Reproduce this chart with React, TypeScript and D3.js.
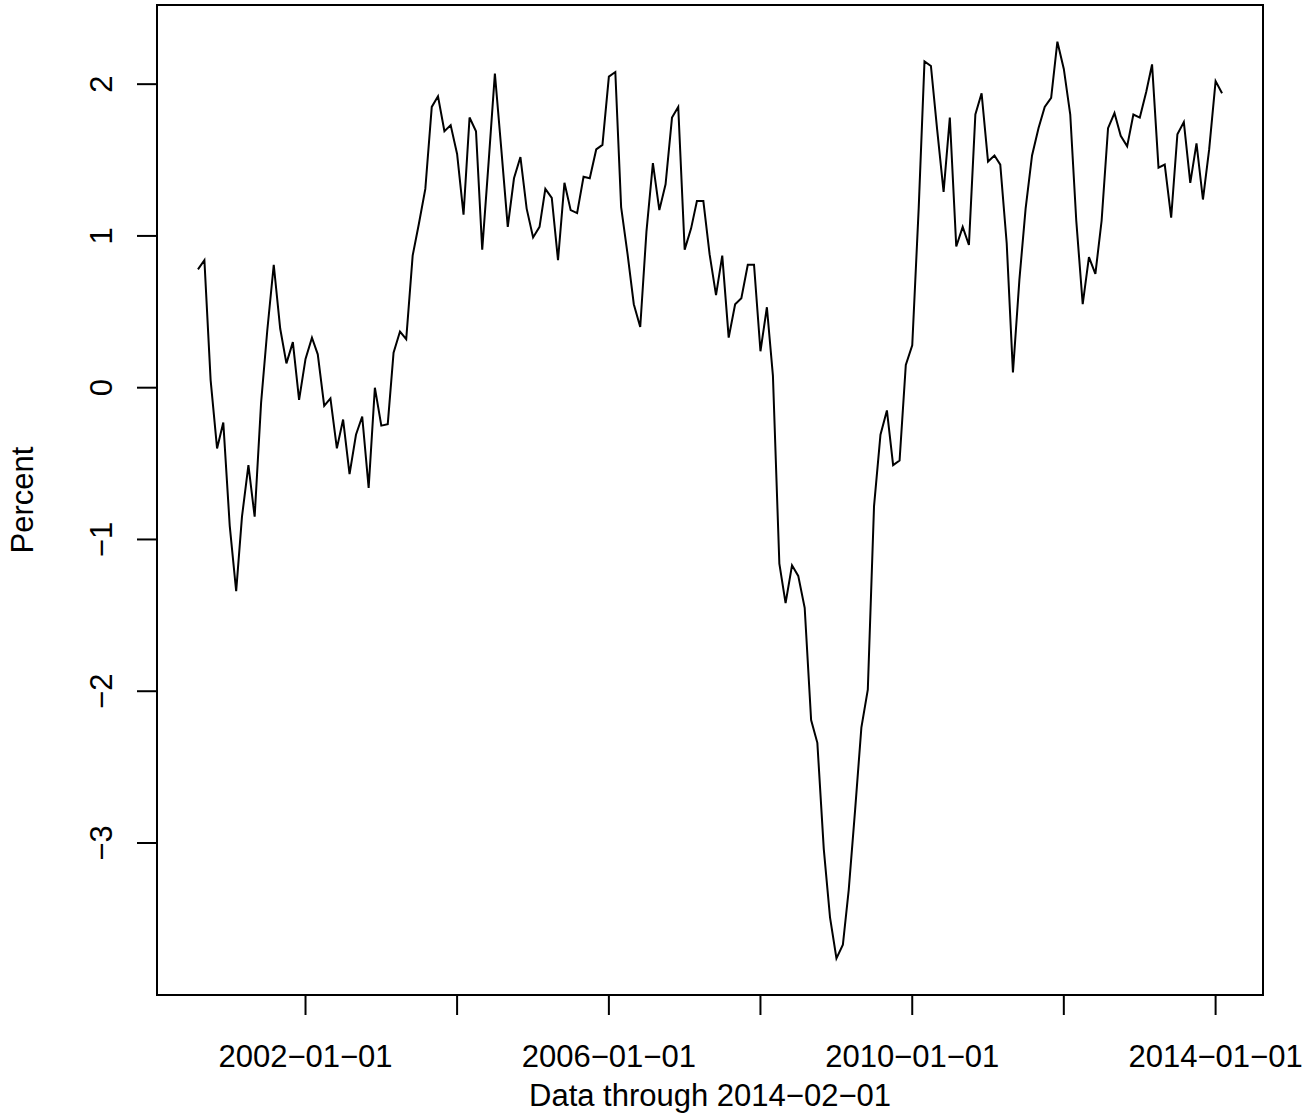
import React from "react";
import * as d3 from "d3";

const startDate = "2000-08-01";
const values = [
  0.78, 0.84, 0.05, -0.40, -0.23, -0.91, -1.34, -0.85, -0.51, -0.85,
  -0.10, 0.38, 0.81, 0.39, 0.16, 0.30, -0.08, 0.19, 0.33, 0.22,
  -0.12, -0.07, -0.40, -0.21, -0.57, -0.31, -0.19, -0.66, 0.00, -0.25,
  -0.24, 0.23, 0.37, 0.32, 0.87, 1.08, 1.31, 1.85, 1.92, 1.69,
  1.73, 1.54, 1.14, 1.78, 1.69, 0.91, 1.49, 2.07, 1.57, 1.06,
  1.38, 1.52, 1.18, 0.99, 1.06, 1.31, 1.25, 0.84, 1.35, 1.17,
  1.15, 1.39, 1.38, 1.57, 1.60, 2.05, 2.08, 1.19, 0.88, 0.55,
  0.40, 1.03, 1.48, 1.17, 1.34, 1.78, 1.85, 0.91, 1.05, 1.23,
  1.23, 0.88, 0.61, 0.87, 0.33, 0.55, 0.59, 0.81, 0.81, 0.24,
  0.53, 0.08, -1.16, -1.42, -1.17, -1.24, -1.45, -2.19, -2.34, -3.04,
  -3.49, -3.76, -3.67, -3.31, -2.78, -2.24, -1.99, -0.78, -0.31, -0.15,
  -0.51, -0.48, 0.15, 0.28, 1.18, 2.15, 2.12, 1.70, 1.29, 1.78,
  0.93, 1.06, 0.94, 1.80, 1.94, 1.49, 1.53, 1.47, 0.95, 0.10,
  0.71, 1.18, 1.53, 1.71, 1.85, 1.91, 2.28, 2.10, 1.80, 1.10,
  0.55, 0.86, 0.75, 1.10, 1.71, 1.81, 1.66, 1.59, 1.80, 1.78,
  1.95, 2.13, 1.45, 1.47, 1.12, 1.67, 1.75, 1.35, 1.61, 1.24,
  1.57, 2.02, 1.94,
];
const yTicks = [-3, -2, -1, 0, 1, 2];
const xTickYears = [2000, 2002, 2004, 2006, 2008, 2010, 2012, 2014];
const xLabelYears = [2002, 2006, 2010, 2014];
const xTitle = "Data through 2014\u221202\u221201";
const yTitle = "Percent";

const start = d3.timeParse("%Y-%m-%d")(startDate)!;
const data = values.map((v, i) => ({ date: d3.timeMonth.offset(start, i), v }));

export default function App() {
  const W = 1314, H = 1115;
  const L = 157, R = 1263, T = 5, B = 995;
  const [d0, d1] = d3.extent(data, (d) => d.date) as [Date, Date];
  const span = +d1 - +d0;
  const x = d3.scaleTime()
    .domain([new Date(+d0 - span * 0.04), new Date(+d1 + span * 0.04)])
    .range([L, R]);
  const [v0, v1] = d3.extent(values) as [number, number];
  const vs = v1 - v0;
  const y = d3.scaleLinear().domain([v0 - vs * 0.04, v1 + vs * 0.04]).range([B, T]);
  const line = d3.line<{ date: Date; v: number }>().x((d) => x(d.date)).y((d) => y(d.v));
  const font = "Liberation Sans, Arial, sans-serif";
  const fs = 31;
  const fmt = (yr: number) => `${yr}\u221201\u221201`;
  const tx = (yr: number) => x(new Date(yr, 0, 1));
  const validTicks = xTickYears.filter((yr) => tx(yr) >= L && tx(yr) <= R);
  return (
    <svg width={W} height={H} style={{ position: "absolute", left: 0, top: 0 }} fontFamily={font}>
      <rect x={0} y={0} width={W} height={H} fill="white" />
      <path d={line(data)!} fill="none" stroke="black" strokeWidth={2} />
      <rect x={L} y={T} width={R - L} height={B - T} fill="none" stroke="black" strokeWidth={2} />
      {yTicks.map((t) => (
        <g key={t}>
          <line x1={L - 20} x2={L} y1={y(t)} y2={y(t)} stroke="black" strokeWidth={2} />
          <text transform={`translate(112,${y(t)}) rotate(-90)`} textAnchor="middle" fontSize={fs}>
            {t < 0 ? `\u2212${-t}` : t}
          </text>
        </g>
      ))}
      {validTicks.map((yr) => (
        <line key={yr} x1={tx(yr)} x2={tx(yr)} y1={B} y2={B + 20} stroke="black" strokeWidth={2} />
      ))}
      {xLabelYears.map((yr) => (
        <text key={yr} x={tx(yr)} y={1067} textAnchor="middle" fontSize={fs}>{fmt(yr)}</text>
      ))}
      <text x={(L + R) / 2} y={1106} textAnchor="middle" fontSize={fs}>{xTitle}</text>
      <text transform={`translate(33,${(T + B) / 2}) rotate(-90)`} textAnchor="middle" fontSize={fs}>{yTitle}</text>
    </svg>
  );
}
